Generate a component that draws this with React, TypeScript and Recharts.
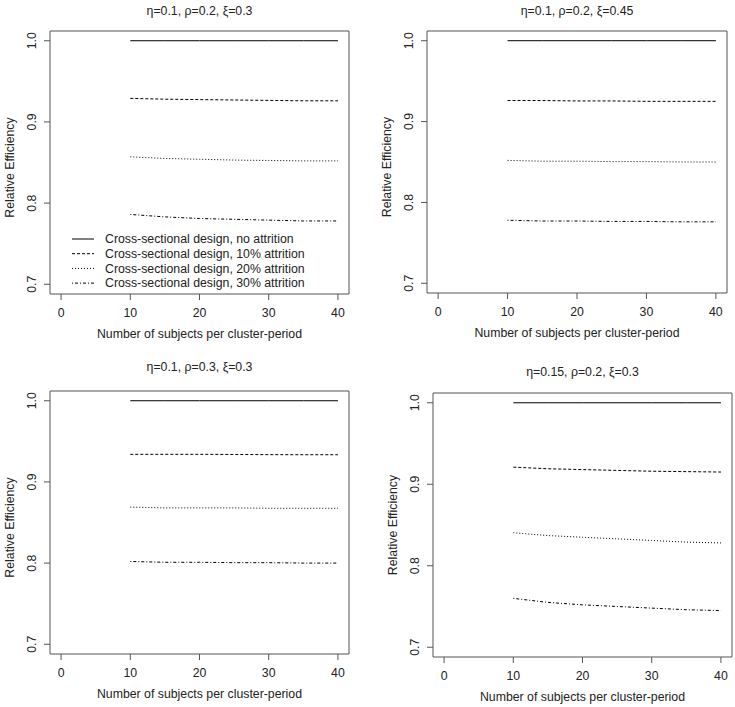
import { LineChart, Line, XAxis, YAxis, ReferenceArea, Legend } from 'recharts';

const subjects = [10, 15, 20, 25, 30, 35, 40];
const xTicks = [0, 10, 20, 30, 40];
const yTicks = [0.7, 0.8, 0.9, 1.0];
const seriesNames = [
  'Cross-sectional design, no attrition',
  'Cross-sectional design, 10% attrition',
  'Cross-sectional design, 20% attrition',
  'Cross-sectional design, 30% attrition',
];
const titles = ['η=0.1, ρ=0.2, ξ=0.3', 'η=0.1, ρ=0.2, ξ=0.45', 'η=0.1, ρ=0.3, ξ=0.3', 'η=0.15, ρ=0.2, ξ=0.3'];

// eta=0.1, rho=0.2, xi=0.3
const aNone = [1, 1, 1, 1, 1, 1, 1];
const a10 = [0.929, 0.928, 0.9275, 0.927, 0.9265, 0.926, 0.926];
const a20 = [0.857, 0.855, 0.854, 0.853, 0.8525, 0.852, 0.852];
const a30 = [0.786, 0.783, 0.781, 0.78, 0.779, 0.778, 0.778];
// eta=0.1, rho=0.2, xi=0.45
const bNone = [1, 1, 1, 1, 1, 1, 1];
const b10 = [0.926, 0.926, 0.9255, 0.9255, 0.925, 0.925, 0.925];
const b20 = [0.852, 0.851, 0.851, 0.8505, 0.8505, 0.85, 0.85];
const b30 = [0.778, 0.777, 0.777, 0.7765, 0.7765, 0.776, 0.776];
// eta=0.1, rho=0.3, xi=0.3
const cNone = [1, 1, 1, 1, 1, 1, 1];
const c10 = [0.934, 0.934, 0.934, 0.9338, 0.9336, 0.9335, 0.9335];
const c20 = [0.869, 0.868, 0.868, 0.868, 0.8675, 0.8675, 0.8675];
const c30 = [0.802, 0.801, 0.801, 0.8005, 0.8005, 0.8, 0.8];
// eta=0.15, rho=0.2, xi=0.3
const dNone = [1, 1, 1, 1, 1, 1, 1];
const d10 = [0.921, 0.919, 0.918, 0.917, 0.916, 0.9155, 0.915];
const d20 = [0.8405, 0.837, 0.835, 0.833, 0.831, 0.829, 0.828];
const d30 = [0.76, 0.755, 0.752, 0.75, 0.748, 0.746, 0.745];

const dashes = ['', '3 2', '1 2', '1 2 3 2'];
const keys = ['none', 'p10', 'p20', 'p30'];
const font = '"Liberation Sans", Arial, sans-serif';
const fs = 12.3;
const ink = '#222';

const table = (none: number[], p10: number[], p20: number[], p30: number[]) =>
  subjects.map((x, i) => ({ x, none: none[i], p10: p10[i], p20: p20[i], p30: p30[i] }));

const YTick = ({ x, y, payload }: any) => (
  <text x={0} y={0} transform={`translate(${x - 6.5},${y}) rotate(-90)`} textAnchor="middle"
    fontSize={fs} fill={ink} fontFamily={font}>{Number(payload.value).toFixed(1)}</text>
);

const renderLegend = () => (
  <svg width={260} height={62} style={{ display: 'block' }}>
    {seriesNames.map((name, i) => (
      <g key={name}>
        <line x1={12} x2={34} y1={9 + i * 14.7} y2={9 + i * 14.7} stroke="#000" strokeDasharray={dashes[i]} />
        <text x={45} y={9 + i * 14.7} dy="0.35em" fontSize={fs} fill={ink} fontFamily={font}>{name}</text>
      </g>
    ))}
  </svg>
);

function Panel({ title, data, bx, by, bw, bh, titleY, yShift, legend }: any) {
  return (
    <>
      <div style={{ position: 'absolute', left: bx, top: titleY - 7, width: bw, lineHeight: '14px',
        textAlign: 'center', fontSize: fs, fontFamily: font, color: ink }}>{title}</div>
      <div style={{ position: 'absolute', left: bx - 50, top: by - 31 }}>
        <LineChart width={bw + 60} height={bh + 81} data={data}
          margin={{ top: 31, right: 10, left: 0, bottom: 0 }}>
          <XAxis dataKey="x" type="number" domain={[-1.6, 41.6]} ticks={xTicks} allowDataOverflow
            height={50} axisLine={false} tickSize={6} tickMargin={8}
            tickLine={{ stroke: '#555' }} tick={{ fontSize: fs, fill: ink, fontFamily: font }}
            label={(p: any) => (
              <text x={p.viewBox.x + p.viewBox.width / 2} y={p.viewBox.y + 44} textAnchor="middle"
                fontSize={fs} fill={ink} fontFamily={font}>Number of subjects per cluster-period</text>
            )} />
          <YAxis type="number" domain={[0.688, 1.012]} ticks={yTicks} allowDataOverflow width={50}
            axisLine={false} tickSize={6} tickMargin={2} tickLine={{ stroke: '#555' }} tick={<YTick />}
            label={(p: any) => (
              <text x={0} y={0} textAnchor="middle" fontSize={fs} fill={ink} fontFamily={font}
                transform={`translate(${p.viewBox.x + 14},${p.viewBox.y + p.viewBox.height / 2 + yShift}) rotate(-90)`}>
                Relative Efficiency</text>
            )} />
          <ReferenceArea x1={-1.6} x2={41.6} y1={0.688} y2={1.012} fill="none" stroke="#555"
            strokeWidth={1} ifOverflow="visible" />
          {keys.map((k, i) => (
            <Line key={k} type="linear" dataKey={k} stroke="#000" strokeWidth={1}
              strokeDasharray={dashes[i] || undefined} dot={false} activeDot={false} isAnimationActive={false} />
          ))}
          {legend && (
            <Legend content={renderLegend} layout="vertical" align="center" verticalAlign="middle"
              wrapperStyle={{ left: 60, top: 230, width: 260, height: 62 }} />
          )}
        </LineChart>
      </div>
    </>
  );
}

export default function App() {
  return (
    <div style={{ position: 'absolute', left: 0, top: 0, width: 735, height: 707, background: '#fff' }}>
      <Panel title={titles[0]} data={table(aNone, a10, a20, a30)} bx={50} by={31} bw={299} bh={263}
        titleY={11} yShift={5} legend />
      <Panel title={titles[1]} data={table(bNone, b10, b20, b30)} bx={427} by={31} bw={300} bh={262}
        titleY={11} yShift={5} />
      <Panel title={titles[2]} data={table(cNone, c10, c20, c30)} bx={50} by={391} bw={299} bh={263}
        titleY={367} yShift={5} />
      <Panel title={titles[3]} data={table(dNone, d10, d20, d30)} bx={433} by={393} bw={299} bh={264}
        titleY={372} yShift={0} />
    </div>
  );
}
